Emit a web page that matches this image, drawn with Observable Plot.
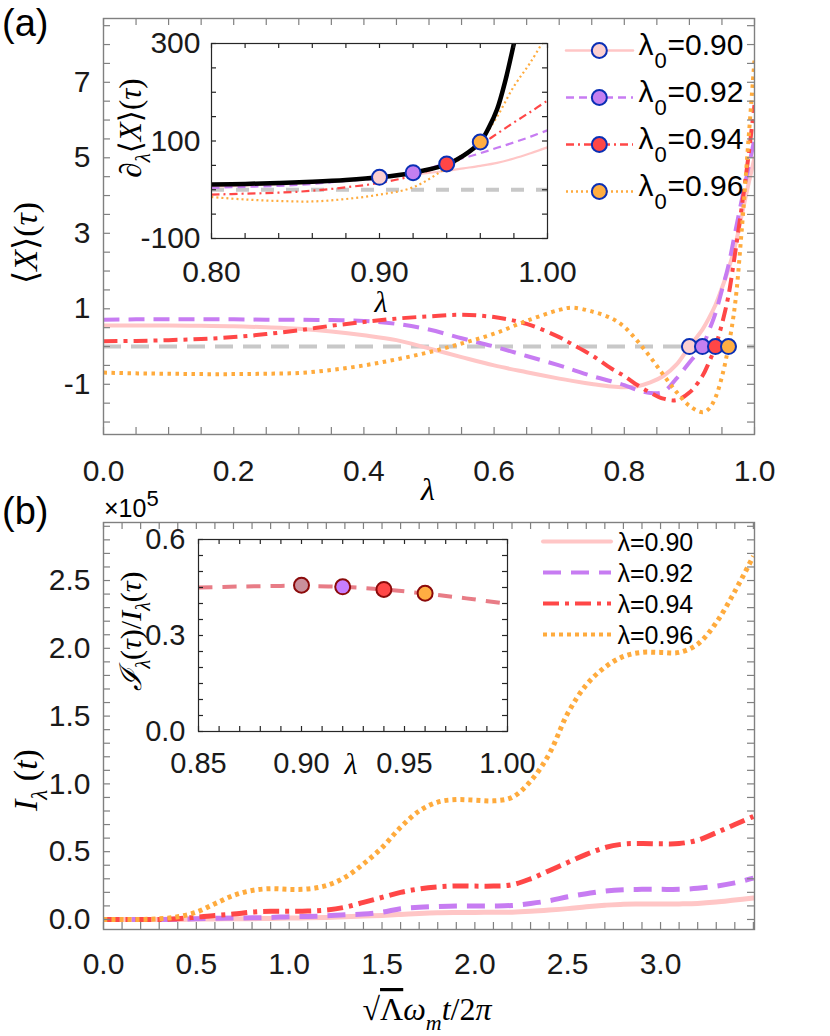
<!DOCTYPE html>
<html><head><meta charset="utf-8">
<script src="https://cdn.jsdelivr.net/npm/d3@7"></script>
<script src="https://cdn.jsdelivr.net/npm/@observablehq/plot@0.6"></script>
<style>
html,body{margin:0;padding:0;background:#fff;}
#root{position:relative;width:830px;height:1036px;overflow:hidden;background:#fff;}
#root svg{position:absolute;left:0;top:0;}
</style></head><body><div id="root"></div>
<script>
// ================= DATA =================
const seriesNames = ["0.90", "0.92", "0.94", "0.96"];
const lambda0 = [0.90, 0.92, 0.94, 0.96];

// Panel (a) main: <X>(tau) versus lambda
const lambdaA = [0,0.05,0.1,0.15,0.2,0.25,0.3,0.35,0.4,0.45,0.5,0.55,0.6,0.65,0.7,0.72,0.75,0.78,0.8,0.82,0.84,0.86,0.88,0.9,0.92,0.93,0.94,0.95,0.96,0.97,0.98,0.99,1.0];
const xTau090 = [0.56,0.56,0.56,0.55,0.54,0.51,0.47,0.40,0.30,0.17,-0.05,-0.28,-0.50,-0.68,-0.85,-0.91,-0.99,-1.06,-1.08,-1.05,-0.95,-0.78,-0.48,0,0.45,0.75,1.10,1.55,2.05,2.65,3.45,4.25,5.0];
const xTau092 = [0.71,0.72,0.72,0.72,0.72,0.71,0.71,0.70,0.68,0.60,0.45,0.22,0,-0.25,-0.50,-0.61,-0.78,-0.92,-1.02,-1.15,-1.23,-1.20,-0.85,-0.42,0,0.42,0.88,1.50,2.15,3.00,3.85,4.68,5.5];
const xTau094 = [0.14,0.15,0.17,0.20,0.25,0.33,0.43,0.55,0.65,0.74,0.80,0.84,0.78,0.60,0.25,0.06,-0.23,-0.58,-0.78,-1.02,-1.22,-1.38,-1.42,-1.22,-0.78,-0.42,0,0.6,1.35,2.45,3.65,4.95,6.4];
const xTau096 = [-0.69,-0.71,-0.72,-0.73,-0.73,-0.72,-0.70,-0.62,-0.50,-0.34,-0.15,0.08,0.34,0.68,0.97,1.03,0.93,0.75,0.52,0.15,-0.28,-0.75,-1.20,-1.57,-1.74,-1.65,-1.35,-0.80,0,1.1,3.0,5.3,7.6];
const xTauAtLambda0 = [0, 0, 0, 0];

// Panel (a) inset: d<X>/dlambda versus lambda
const lambdaInsetA = [0.80,0.82,0.84,0.86,0.88,0.90,0.92,0.94,0.95,0.96,0.97,0.98,0.99,1.00];
const dX090 = [6,8.5,11,14,19,25,31,39,44,49,55,64,75,87];
const dX092 = [4,6,8,12,18,24,35,55,65,75,86,97,109,122];
const dX094 = [-10,-8,-6,-2,5,14,29,54,72,92,115,138,160,183];
const dX096 = [-15,-20,-23,-24,-19,-10,5,45,68,99,150,212,262,320];
const lambdaEnvelope = [0.80,0.82,0.84,0.86,0.88,0.90,0.92,0.94,0.95,0.96,0.965,0.97,0.975,0.98,0.983];
const dXEnvelope = [11,12,14,16.5,20,25.5,35,52,70,98,127,165,225,300,350];
const dXAtLambda0 = [25.5, 35, 53, 98];

// Panel (b) main: I_lambda(t) (x 1e5) versus sqrt(Lambda) w_m t / 2pi
const tB = [0,0.1,0.2,0.3,0.4,0.5,0.6,0.7,0.8,0.9,1.0,1.1,1.2,1.3,1.4,1.5,1.6,1.7,1.8,1.9,2.0,2.1,2.2,2.3,2.4,2.5,2.6,2.7,2.8,2.9,3.0,3.1,3.2,3.3,3.4,3.5];
const I090 = [0,0,0,0,0,0.003,0.004,0.005,0.006,0.008,0.01,0.012,0.015,0.02,0.025,0.03,0.037,0.044,0.049,0.051,0.052,0.053,0.054,0.06,0.069,0.08,0.094,0.105,0.113,0.114,0.114,0.115,0.118,0.128,0.143,0.158];
const I092 = [0,0,0,0,0.002,0.005,0.008,0.01,0.012,0.015,0.02,0.022,0.027,0.035,0.04,0.054,0.079,0.09,0.096,0.1,0.1,0.1,0.103,0.118,0.138,0.167,0.19,0.21,0.22,0.222,0.222,0.222,0.23,0.246,0.27,0.305];
const I094 = [0,0,0,0,0.005,0.017,0.03,0.04,0.054,0.06,0.06,0.062,0.07,0.09,0.126,0.163,0.2,0.225,0.24,0.247,0.246,0.246,0.256,0.30,0.36,0.42,0.48,0.53,0.556,0.56,0.558,0.56,0.585,0.64,0.70,0.76];
const I096 = [0,0,0,0.005,0.02,0.054,0.116,0.177,0.214,0.227,0.222,0.225,0.25,0.31,0.41,0.53,0.68,0.80,0.866,0.884,0.88,0.875,0.90,1.02,1.22,1.52,1.73,1.86,1.94,1.97,1.97,1.97,2.03,2.19,2.42,2.68];

// Panel (b) inset: ratio versus lambda
const lambdaInsetB = [0.85,0.87,0.89,0.90,0.92,0.94,0.96,0.98,1.00];
const ratioB = [0.450,0.453,0.455,0.455,0.452,0.444,0.431,0.416,0.399];
const ratioAtLambda0 = [0.457,0.452,0.444,0.432];

// Tick labels
const aXLabels = [0,0.2,0.4,0.6,0.8,1.0];
const aYLabels = [-1,1,3,5,7];
const aInsetXLabels = [0.80,0.90,1.00];
const aInsetYLabels = [-100,100,300];
const bXLabels = [0,0.5,1.0,1.5,2.0,2.5,3.0];
const bYLabels = [0,0.5,1.0,1.5,2.0,2.5];
const bInsetXLabels = [0.85,0.90,0.95,1.00];
const bInsetYLabels = [0,0.3,0.6];

// ================= STYLE =================
const FONT = '"Liberation Sans", Arial, Helvetica, sans-serif';
const SERIF = '"Liberation Serif", "DejaVu Serif", "Times New Roman", serif';
const lineColors = ["#ffc6c6", "#c77cf2", "#ff4747", "#ffab3d"];
const markerFillA = ["#fcd0d0", "#c47ff0", "#ff4646", "#ffae42"];
const markerEdgeA = "#0a2fb5";
const markerFillB = ["#c9909c", "#c77dff", "#ff4848", "#ffae42"];
const markerEdgeB = "#8b0a0a";
const dashMain = [null, "16,9", "14,6,4,6", "3.5,4.5"];
const dashInset = [null, "8,5", "8,4,2,4", "2,3"];
const dashB = [null, "18,10", "16,6,4,6", "4,4"];
const capOf = dash => dash ? "butt" : "round";

const root = document.getElementById("root");
const rng = (a, b, s) => { const out = []; for (let v = a; v <= b + s / 1000; v += s) out.push(Math.round(v * 1e6) / 1e6); return out; };

function framed(o) {
  const W = o.width - o.ml - o.mr, H = o.height - o.mt - o.mb;
  const tl = o.tickLen;
  const marks = [];
  if (o.bg) marks.push(Plot.frame({fill: o.bg, stroke: null}));
  marks.push(...o.marks);
  const tk = {stroke: o.axisColor, strokeWidth: 1.2};
  marks.push(Plot.tickX(o.xMinor, {x: d => d, insetTop: H - tl, ...tk}));
  marks.push(Plot.tickX(o.xMinor, {x: d => d, insetBottom: H - tl, ...tk}));
  marks.push(Plot.tickY(o.yMinor, {y: d => d, insetRight: W - tl, ...tk}));
  marks.push(Plot.tickY(o.yMinor, {y: d => d, insetLeft: W - tl, ...tk}));
  marks.push(Plot.frame({stroke: o.axisColor, strokeWidth: o.frameWidth || 1.4}));
  marks.push(Plot.axisX(o.xLabels, {anchor: "bottom", tickSize: 0, tickPadding: o.xPad, tickFormat: o.xFmt, label: null, fontSize: o.fontSize, fill: "#1a1a1a"}));
  marks.push(Plot.axisY(o.yLabels, {anchor: "left", tickSize: 0, tickPadding: o.yPad, tickFormat: o.yFmt, label: null, fontSize: o.fontSize, fill: "#1a1a1a"}));
  const svg = Plot.plot({
    width: o.width, height: o.height,
    marginLeft: o.ml, marginRight: o.mr, marginTop: o.mt, marginBottom: o.mb,
    x: {domain: o.xDomain}, y: {domain: o.yDomain},
    style: {background: "transparent", fontFamily: FONT, overflow: "visible", color: "#1a1a1a"},
    marks
  });
  root.appendChild(svg);
  return svg;
}

// ---- Panel (a) main ----
const mainA = [xTau090, xTau092, xTau094, xTau096].map(arr => lambdaA.map((l, j) => ({lambda: l, v: arr[j]})));
const marksA = [Plot.ruleY([0], {stroke: "#c8c8c8", strokeWidth: 4, strokeDasharray: "18,10", strokeLinecap: "butt"})];
mainA.forEach((d, i) => marksA.push(Plot.line(d, {x: "lambda", y: "v", stroke: lineColors[i], strokeWidth: 4, strokeDasharray: dashMain[i], strokeLinecap: capOf(dashMain[i]), curve: "catmull-rom", clip: true})));
lambda0.forEach((l, i) => marksA.push(Plot.dot([{lambda: l, v: xTauAtLambda0[i]}], {x: "lambda", y: "v", r: 7.5, fill: markerFillA[i], stroke: markerEdgeA, strokeWidth: 2})));
framed({width: 830, height: 500, ml: 103, mr: 76, mt: 18, mb: 66,
  xDomain: [0, 1], yDomain: [-2.33, 8.69], tickLen: 7, axisColor: "#808080",
  xMinor: rng(0, 1, 0.05), yMinor: rng(-2, 8.5, 0.5),
  xLabels: aXLabels, yLabels: aYLabels, xFmt: d => d.toFixed(1), yFmt: d => String(d),
  xPad: 25, yPad: 13, fontSize: 30, marks: marksA});

// ---- Panel (a) inset ----
const insA = [dX090, dX092, dX094, dX096].map(arr => lambdaInsetA.map((l, j) => ({lambda: l, v: arr[j]})));
const envA = lambdaEnvelope.map((l, j) => ({lambda: l, v: dXEnvelope[j]}));
const marksIA = [Plot.ruleY([0], {stroke: "#c8c8c8", strokeWidth: 4, strokeDasharray: "13,12", strokeLinecap: "butt"})];
insA.forEach((d, i) => marksIA.push(Plot.line(d, {x: "lambda", y: "v", stroke: lineColors[i], strokeWidth: 2.2, strokeDasharray: dashInset[i], strokeLinecap: capOf(dashInset[i]), curve: "catmull-rom", clip: true})));
marksIA.push(Plot.line(envA, {x: "lambda", y: "v", stroke: "#000", strokeWidth: 4.5, curve: "catmull-rom", clip: true}));
lambda0.forEach((l, i) => marksIA.push(Plot.dot([{lambda: l, v: dXAtLambda0[i]}], {x: "lambda", y: "v", r: 7.5, fill: markerFillA[i], stroke: markerEdgeA, strokeWidth: 2})));
framed({width: 830, height: 320, ml: 211, mr: 283, mt: 43, mb: 82,
  xDomain: [0.8, 1.0], yDomain: [-100, 300], tickLen: 5, axisColor: "#262626", bg: "white", frameWidth: 1.2,
  xMinor: rng(0.8, 1.0, 0.02), yMinor: rng(-100, 300, 50),
  xLabels: aInsetXLabels, yLabels: aInsetYLabels, xFmt: d => d.toFixed(2), yFmt: d => String(d),
  xPad: 22, yPad: 11, fontSize: 30, marks: marksIA});

// ---- Panel (a) legend ----
{
  const marks = [];
  seriesNames.forEach((s, i) => {
    marks.push(Plot.ruleY([s], {y: d => d, x1: () => 0, x2: () => 1, stroke: lineColors[i], strokeWidth: 2.5, strokeDasharray: dashInset[i], strokeLinecap: capOf(dashInset[i])}));
    marks.push(Plot.dot([s], {y: d => d, x: () => 0.49, r: 7.5, fill: markerFillA[i], stroke: markerEdgeA, strokeWidth: 2}));
  });
  marks.push(Plot.text(seriesNames, {y: d => d, x: () => 1, text: () => "λ", dx: 5, dy: -5, textAnchor: "start", fontSize: 30, fill: "#000"}));
  marks.push(Plot.text(seriesNames, {y: d => d, x: () => 1, text: () => "0", dx: 21, dy: 10, textAnchor: "start", fontSize: 22, fill: "#000"}));
  marks.push(Plot.text(seriesNames, {y: d => d, x: () => 1, text: d => "=" + d, dx: 34, dy: -5, textAnchor: "start", fontSize: 30, fill: "#000"}));
  const svg = Plot.plot({width: 830, height: 260, marginLeft: 566, marginRight: 197, marginTop: 49, marginBottom: 68,
    x: {domain: [0, 1], axis: null}, y: {type: "point", domain: seriesNames, padding: 0, axis: null},
    style: {background: "transparent", fontFamily: FONT, overflow: "visible"}, marks});
  root.appendChild(svg);
}

// ---- Panel (b) main ----
const mainB = [I090, I092, I094, I096].map(arr => tB.map((t, j) => ({t, v: arr[j]})));
const marksB = [];
mainB.forEach((d, i) => marksB.push(Plot.line(d, {x: "t", y: "v", stroke: lineColors[i], strokeWidth: 5, strokeDasharray: dashB[i], strokeLinecap: capOf(dashB[i]), curve: "catmull-rom", clip: true})));
framed({width: 830, height: 1036, ml: 103, mr: 76, mt: 522, mb: 107,
  xDomain: [0, 3.506], yDomain: [-0.074, 2.928], tickLen: 7, axisColor: "#808080",
  xMinor: rng(0, 3.5, 0.1), yMinor: rng(0, 2.9, 0.1),
  xLabels: bXLabels, yLabels: bYLabels, xFmt: d => d.toFixed(1), yFmt: d => d.toFixed(1),
  xPad: 23, yPad: 13, fontSize: 30, marks: marksB});

// ---- Panel (b) inset ----
const insB = lambdaInsetB.map((l, j) => ({lambda: l, v: ratioB[j]}));
const marksIB = [Plot.line(insB, {x: "lambda", y: "v", stroke: "#e87c86", strokeWidth: 4, strokeDasharray: "14,10", strokeLinecap: "butt", curve: "catmull-rom"})];
lambda0.forEach((l, i) => marksIB.push(Plot.dot([{lambda: l, v: ratioAtLambda0[i]}], {x: "lambda", y: "v", r: 7.5, fill: markerFillB[i], stroke: markerEdgeB, strokeWidth: 2})));
framed({width: 830, height: 800, ml: 198, mr: 323, mt: 539, mb: 69,
  xDomain: [0.85, 1.0], yDomain: [0, 0.6], tickLen: 5, axisColor: "#262626", bg: "white", frameWidth: 1.2,
  xMinor: rng(0.85, 1.0, 0.01), yMinor: rng(0, 0.6, 0.05),
  xLabels: bInsetXLabels, yLabels: bInsetYLabels, xFmt: d => d.toFixed(2), yFmt: d => d.toFixed(1),
  xPad: 21, yPad: 13, fontSize: 29, marks: marksIB});

// ---- Panel (b) legend ----
{
  const marks = [];
  seriesNames.forEach((s, i) => {
    marks.push(Plot.ruleY([s], {y: d => d, x1: () => 0, x2: () => 1, stroke: lineColors[i], strokeWidth: 4, strokeDasharray: dashB[i], strokeLinecap: capOf(dashB[i])}));
  });
  marks.push(Plot.text(seriesNames, {y: d => d, x: () => 1, text: d => "λ=" + d, dx: 6, dy: 1, textAnchor: "start", fontSize: 25, fill: "#000"}));
  const svg = Plot.plot({width: 830, height: 700, marginLeft: 543, marginRight: 219, marginTop: 540, marginBottom: 65,
    x: {domain: [0, 1], axis: null}, y: {type: "point", domain: seriesNames, padding: 0, axis: null},
    style: {background: "transparent", fontFamily: FONT, overflow: "visible"}, marks});
  root.appendChild(svg);
}

// ---- Titles / annotations ----
const ov = d3.select(root).append("svg").attr("width", 830).attr("height", 1036).style("pointer-events", "none");
function rich({x, y, rotate = 0, anchor = "middle", size, family = SERIF, parts}) {
  const t = ov.append("text").attr("transform", `translate(${x},${y}) rotate(${rotate})`)
    .attr("text-anchor", anchor).attr("font-family", family).attr("font-size", size).attr("fill", "#000");
  let off = 0;
  for (const p of parts) {
    const target = p.sub ? size * 0.3 : p.sup ? -size * 0.45 : 0;
    const s = t.append("tspan").text(p.t).attr("dy", target - off);
    off = target;
    if (p.italic) s.attr("font-style", "italic");
    if (p.sub || p.sup) s.attr("font-size", p.size || size * 0.7);
    if (p.family) s.attr("font-family", p.family);
    if (p.overline) s.attr("text-decoration", "overline");
  }
  return t;
}
rich({x: 2, y: 36, anchor: "start", size: 38, family: FONT, parts: [{t: "(a)"}]});
rich({x: 2, y: 524, anchor: "start", size: 38, family: FONT, parts: [{t: "(b)"}]});
rich({x: 428, y: 500, size: 32, parts: [{t: "λ", italic: true}]});
rich({x: 381, y: 312, size: 30, parts: [{t: "λ", italic: true}]});
rich({x: 351, y: 774, size: 30, parts: [{t: "λ", italic: true}]});
rich({x: 37, y: 243, rotate: -90, size: 34, parts: [{t: "⟨"}, {t: "X", italic: true}, {t: "⟩("}, {t: "τ", italic: true}, {t: ")"}]});
rich({x: 141, y: 128, rotate: -90, size: 31, parts: [{t: "∂", italic: true}, {t: "λ", italic: true, sub: true, size: 21}, {t: "⟨"}, {t: "X", italic: true}, {t: "⟩("}, {t: "τ", italic: true}, {t: ")"}]});
rich({x: 37, y: 780, rotate: -90, size: 34, parts: [{t: "I", italic: true}, {t: "λ", italic: true, sub: true, size: 23}, {t: " ("}, {t: "t", italic: true}, {t: ")"}]});
rich({x: 141, y: 631, rotate: -90, size: 30, parts: [{t: "ℐ", italic: true}, {t: "λ", italic: true, sub: true, size: 20}, {t: "("}, {t: "τ", italic: true}, {t: ")/"}, {t: "I", italic: true}, {t: "λ", italic: true, sub: true, size: 20}, {t: "("}, {t: "τ", italic: true}, {t: ")"}]});
rich({x: 427, y: 1020, size: 32, parts: [{t: "√"}, {t: "Λ", overline: true}, {t: "ω", italic: true}, {t: "m", italic: true, sub: true, size: 22}, {t: "t", italic: true}, {t: "/2"}, {t: "π", italic: true}]});
rich({x: 104, y: 517, anchor: "start", size: 25, family: FONT, parts: [{t: "×10"}, {t: "5", sup: true, size: 22}]});
</script></body></html>
